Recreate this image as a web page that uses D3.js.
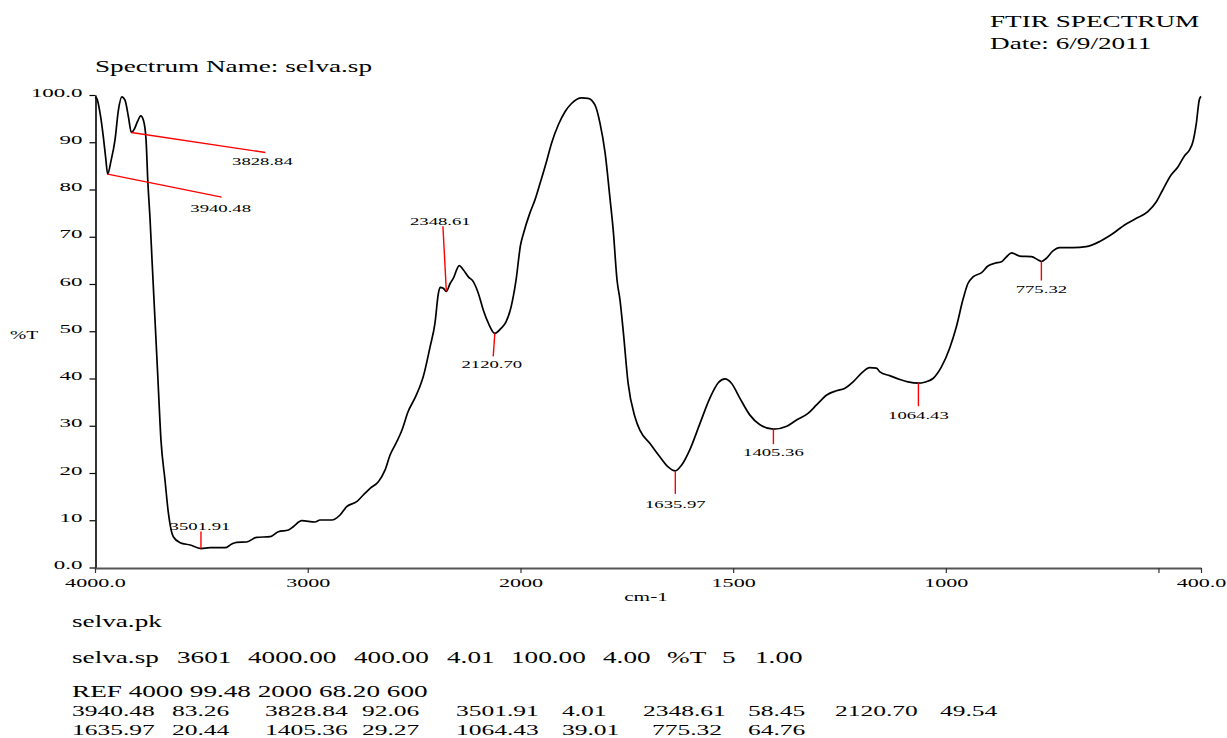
<!DOCTYPE html>
<html>
<head>
<meta charset="utf-8">
<script src="https://cdn.jsdelivr.net/npm/d3@7"></script>
<style>
  html, body { margin: 0; padding: 0; background: #fff; }
  svg { display: block; }
  text { font-family: "Liberation Serif", "Times New Roman", serif; fill: #000; }
</style>
</head>
<body>
<svg id="chart" width="1227" height="738"></svg>
<script>
// ---- spectrum samples (wavenumber in cm-1, transmittance in %T) ----
const wavenumbers = [
  4000, 3992, 3976, 3961, 3950, 3940.48, 3925, 3906, 3890, 3874, 3859, 3843, 3828.84, 3815, 3800,
  3785, 3772, 3760, 3752, 3741, 3732, 3718, 3704, 3690, 3671, 3655, 3632, 3600, 3553, 3501.91,
  3459, 3389, 3357, 3334, 3287, 3240, 3177, 3138, 3091, 3068, 3028, 2966, 2942, 2887, 2848,
  2817, 2770, 2739, 2707, 2668, 2637, 2613, 2585, 2557, 2529, 2496, 2472, 2457, 2425, 2402,
  2386, 2378, 2363, 2348.61, 2331, 2316, 2288, 2269, 2245, 2222, 2198, 2175, 2151, 2120.70, 2092,
  2068, 2044, 2021, 2000, 1993, 1978, 1966, 1954, 1938, 1927, 1911, 1895, 1880, 1856, 1841,
  1825, 1813, 1801, 1790, 1782, 1773, 1766, 1758, 1747, 1731, 1719, 1696, 1672, 1653, 1635.97,
  1621, 1602, 1578, 1555, 1535, 1519, 1504, 1484, 1461, 1437, 1405.36, 1374, 1351, 1324, 1304,
  1280, 1257, 1238, 1218, 1195, 1179, 1163, 1155, 1132, 1108, 1089, 1064.43, 1050, 1030, 1010,
  991, 975, 960, 948, 936, 916, 901, 885, 869, 858, 845, 826, 799, 783, 775.32,
  764, 748, 732, 701, 670, 638, 615, 576, 552, 525, 505, 490, 470, 454, 439,
  427, 419, 411, 404, 400
];
const transmittance = [
  99.5, 99.3, 96.1, 91.2, 86.8, 83.26, 86.0, 90.5, 96.8, 99.6, 98.9, 95.4, 92.06, 92.8, 94.4,
  95.6, 94.6, 90.5, 82.0, 73.5, 65.1, 52.4, 39.7, 27.0, 18.5, 11.5, 6.5, 5.25, 4.76, 4.01,
  4.19, 4.19, 4.97, 5.33, 5.40, 6.39, 6.52, 7.58, 7.94, 8.63, 9.90, 9.63, 10.05, 10.05, 11.11,
  12.87, 13.93, 15.34, 16.76, 18.16, 20.6, 23.8, 26.3, 29.1, 32.9, 35.9, 38.4, 40.4, 46.7, 51.7,
  58.0, 59.3, 59.1, 58.45, 60.1, 61.2, 63.9, 63.0, 61.5, 60.5, 58.0, 54.5, 51.7, 49.54, 50.6,
  52.0, 55.2, 60.8, 68.2, 70.7, 75.0, 77.8, 81.3, 86.2, 89.8, 93.7, 96.5, 98.2, 99.4, 99.3,
  97.9, 94.0, 87.7, 78.5, 71.4, 60.8, 56.6, 49.6, 39.0, 31.9, 29.0, 26.3, 23.4, 21.3, 20.44,
  21.7, 24.9, 30.5, 35.8, 39.1, 39.9, 39.0, 35.8, 32.3, 30.2, 29.27, 29.9, 31.2, 32.6, 34.4,
  36.5, 37.4, 37.9, 39.3, 41.4, 42.3, 42.2, 41.4, 40.6, 39.8, 39.3, 39.01, 39.2, 40.0, 42.5,
  46.4, 51.0, 56.6, 60.1, 61.5, 62.4, 63.8, 64.4, 64.7, 65.7, 66.6, 65.9, 65.8, 65.1, 64.76,
  65.4, 67.0, 67.7, 67.7, 67.9, 69.0, 70.2, 72.7, 73.9, 75.3, 77.4, 79.9, 83.1, 84.8, 87.1,
  88.4, 90.1, 94.0, 99.0, 99.7
];

// ---- picked peaks ----
const peakWavenumbers   = [3940.48, 3828.84, 3501.91, 2348.61, 2120.70, 1635.97, 1405.36, 1064.43, 775.32];
const peakTransmittance = [83.26, 92.06, 4.01, 58.45, 49.54, 20.44, 29.27, 39.01, 64.76];

// ---- axis ticks ----
const xTickValues = [4000, 3000, 2000, 1500, 1000, 500, 400];
const xTickLabels = ["4000.0", "3000", "2000", "1500", "1000", "", "400.0"];
const yTickValues = [0, 10, 20, 30, 40, 50, 60, 70, 80, 90, 100];
const yTickLabels = ["0.0", "10", "20", "30", "40", "50", "60", "70", "80", "90", "100.0"];

// ---- header / report text ----
const titleLines = ["FTIR SPECTRUM", "Date: 6/9/2011"];
const spectrumName = "Spectrum Name: selva.sp";
const peakFileName = "selva.pk";
const headerFields = ["selva.sp", "3601", "4000.00", "400.00", "4.01", "100.00", "4.00", "%T", "5", "1.00"];
const refLine = "REF 4000 99.48 2000 68.20 600";

// ---------------------------------------------------------------
const svg = d3.select("#chart");
const STRETCH = 1.7;   // wide printer-style lettering

function label(parent, x, y, str, size, anchor) {
  return parent.append("text")
    .attr("transform", `translate(${x},${y}) scale(${STRETCH},1)`)
    .attr("text-anchor", anchor || "start")
    .style("font-size", size + "px")
    .text(str);
}

// Wavenumber axis is compressed 2:1 above 2000 cm-1
const x = d3.scaleLinear().domain([4000, 2000, 400]).range([95, 520.5, 1201]);
const y = d3.scaleLinear().domain([0, 100]).range([567.5, 95]);

// axes
const yAxis = svg.append("g")
  .attr("transform", "translate(95.5,0)")
  .call(d3.axisLeft(y).tickValues(yTickValues).tickSize(6).tickSizeOuter(0)
        .tickFormat((d, i) => yTickLabels[i]));
yAxis.select(".domain").attr("stroke", "#000").attr("stroke-width", 1.6);
yAxis.selectAll(".tick line").attr("stroke", "#000").attr("stroke-width", 1.2);
yAxis.selectAll(".tick text")
  .attr("x", null).attr("dy", null)
  .attr("transform", `translate(-13,1) scale(${STRETCH},1)`)
  .attr("text-anchor", "end")
  .style("font-size", "13.5px");

const xAxis = svg.append("g")
  .attr("transform", "translate(0,568)")
  .call(d3.axisBottom(x).tickValues(xTickValues).tickSize(5).tickSizeOuter(0)
        .tickFormat((d, i) => xTickLabels[i]));
xAxis.select(".domain").attr("stroke", "#555").attr("stroke-width", 1.8);
xAxis.selectAll(".tick line").attr("stroke", "#333").attr("stroke-width", 1.2);
xAxis.selectAll(".tick text")
  .attr("y", null).attr("dy", null)
  .attr("transform", `translate(0,19) scale(${STRETCH},1)`)
  .attr("text-anchor", "middle")
  .style("font-size", "13px");

// axis titles
label(svg, 646, 601, "cm-1", 12.5, "middle");
label(svg, 10, 339, "%T", 11.5, "start");

// spectrum trace
const samples = wavenumbers.map((w, i) => [w, transmittance[i]]);
svg.append("path")
  .datum(samples)
  .attr("fill", "none")
  .attr("stroke", "#000")
  .attr("stroke-width", 1.7)
  .attr("stroke-linejoin", "round")
  .attr("d", d3.line().x(d => x(d[0])).y(d => y(d[1])).curve(d3.curveMonotoneX));

// peak markers: leader offsets (dx, dy) and label offsets (lx, ly) in pixels
const peakLabelLayout = [
  { dx: 114, dy: 23, lx: 113, ly: 38 },
  { dx: 134, dy: 20, lx: 131, ly: 32 },
  { dx: 0, dy: -17, lx: -1, ly: -19 },
  { dx: -3.4, dy: -65, lx: -6, ly: -66 },
  { dx: -1.6, dy: 23, lx: -3, ly: 35 },
  { dx: 0, dy: 23, lx: 0, ly: 37 },
  { dx: 0, dy: 15, lx: 0, ly: 27 },
  { dx: 0, dy: 23, lx: 0, ly: 36 },
  { dx: 0, dy: 19, lx: 0, ly: 31 }
];
const peakGroup = svg.append("g");
peakWavenumbers.forEach((w, i) => {
  const px = x(w), py = y(peakTransmittance[i]);
  const L = peakLabelLayout[i];
  peakGroup.append("line")
    .attr("x1", px).attr("y1", py)
    .attr("x2", px + L.dx).attr("y2", py + L.dy)
    .attr("stroke", "#ff0000").attr("stroke-width", 1.4);
  label(peakGroup, px + L.lx, py + L.ly, w.toFixed(2), 11, "middle");
});

// header text
label(svg, 990, 27, titleLines[0], 16, "start");
label(svg, 990, 49, titleLines[1], 16, "start");
label(svg, 95, 72, spectrumName, 16, "start");

// peak report below the plot
label(svg, 72, 627, peakFileName, 16, "start");
const headerCols = [72, 177, 248, 354, 447, 511, 603, 667, 722, 755];
headerFields.forEach((f, i) => label(svg, headerCols[i], 663, f, 16, "start"));
label(svg, 72, 697, refLine, 16, "start");

const rowCols = [
  [72, 172, 265, 362, 456, 562, 643, 748, 835, 940],
  [72, 172, 265, 362, 456, 562, 652, 748]
];
const rowSplit = [[0, 5], [5, 9]];
const rowBase = [716, 735];
rowSplit.forEach(([a, b], r) => {
  let col = 0;
  for (let i = a; i < b; i++) {
    label(svg, rowCols[r][col++], rowBase[r], peakWavenumbers[i].toFixed(2), 15, "start");
    label(svg, rowCols[r][col++], rowBase[r], peakTransmittance[i].toFixed(2), 15, "start");
  }
});
</script>
</body>
</html>
